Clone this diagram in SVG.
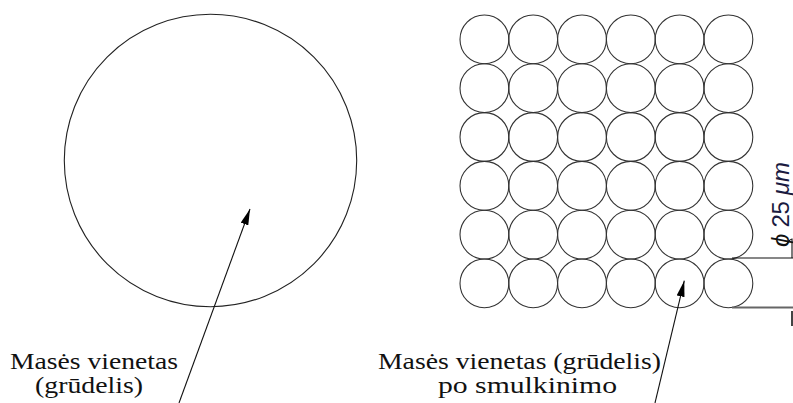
<svg xmlns="http://www.w3.org/2000/svg" width="793" height="403" viewBox="0 0 793 403">
<style>
.c{fill:none;stroke:#333;stroke-width:1.1}
.big{fill:none;stroke:#222;stroke-width:1.1}
.lbl{font-family:"Liberation Serif","Times New Roman",serif;font-size:24px;fill:#111}
.dim{font-family:"Liberation Sans",Arial,sans-serif;font-size:24px;fill:#1a1a40}
.ar{stroke:#111;stroke-width:1.1;fill:none}
</style>
<defs>
<marker id="ah" viewBox="0 0 16 8" refX="16" refY="4" markerWidth="16" markerHeight="8" markerUnits="userSpaceOnUse" orient="auto">
<path d="M0,0 L16,4 L0,8 Z" fill="#000"/>
</marker>
</defs>
<rect width="793" height="403" fill="#fff"/>
<g id="big-grain">
<circle class="big" cx="210.5" cy="160.5" r="146.2"/>
</g>
<g id="grid">
<g id="row1">
<circle class="c" cx="484.4" cy="39.4" r="24.4"/><circle class="c" cx="533.2" cy="39.4" r="24.4"/><circle class="c" cx="582" cy="39.4" r="24.4"/><circle class="c" cx="630.8" cy="39.4" r="24.4"/><circle class="c" cx="679.6" cy="39.4" r="24.4"/><circle class="c" cx="728.4" cy="39.4" r="24.4"/>
</g>
<g id="row2">
<circle class="c" cx="484.4" cy="88.2" r="24.4"/><circle class="c" cx="533.2" cy="88.2" r="24.4"/><circle class="c" cx="582" cy="88.2" r="24.4"/><circle class="c" cx="630.8" cy="88.2" r="24.4"/><circle class="c" cx="679.6" cy="88.2" r="24.4"/><circle class="c" cx="728.4" cy="88.2" r="24.4"/>
</g>
<g id="row3">
<circle class="c" cx="484.4" cy="137" r="24.4"/><circle class="c" cx="533.2" cy="137" r="24.4"/><circle class="c" cx="582" cy="137" r="24.4"/><circle class="c" cx="630.8" cy="137" r="24.4"/><circle class="c" cx="679.6" cy="137" r="24.4"/><circle class="c" cx="728.4" cy="137" r="24.4"/>
</g>
<g id="row4">
<circle class="c" cx="484.4" cy="185.8" r="24.4"/><circle class="c" cx="533.2" cy="185.8" r="24.4"/><circle class="c" cx="582" cy="185.8" r="24.4"/><circle class="c" cx="630.8" cy="185.8" r="24.4"/><circle class="c" cx="679.6" cy="185.8" r="24.4"/><circle class="c" cx="728.4" cy="185.8" r="24.4"/>
</g>
<g id="row5">
<circle class="c" cx="484.4" cy="234.6" r="24.4"/><circle class="c" cx="533.2" cy="234.6" r="24.4"/><circle class="c" cx="582" cy="234.6" r="24.4"/><circle class="c" cx="630.8" cy="234.6" r="24.4"/><circle class="c" cx="679.6" cy="234.6" r="24.4"/><circle class="c" cx="728.4" cy="234.6" r="24.4"/>
</g>
<g id="row6">
<circle class="c" cx="484.4" cy="283.4" r="24.4"/><circle class="c" cx="533.2" cy="283.4" r="24.4"/><circle class="c" cx="582" cy="283.4" r="24.4"/><circle class="c" cx="630.8" cy="283.4" r="24.4"/><circle class="c" cx="679.6" cy="283.4" r="24.4"/><circle class="c" cx="728.4" cy="283.4" r="24.4"/>
</g>
</g>
<g id="connectors">
<line class="ar" x1="179" y1="403" x2="250" y2="209" marker-end="url(#ah)"/>
<line class="ar" x1="655" y1="403" x2="684.3" y2="280.7" marker-end="url(#ah)"/>
</g>
<g id="dimension">
<line x1="732" y1="258" x2="793" y2="258" stroke="#111" stroke-width="1.1"/>
<line x1="732" y1="307.5" x2="793" y2="307.5" stroke="#666" stroke-width="2"/>
<path d="M786,245 Q790,239 792,239 L792,258" fill="none" stroke="#111" stroke-width="1.1"/>
<line x1="792" y1="311" x2="792" y2="326" stroke="#444" stroke-width="2"/>
<text class="dim" transform="translate(789,247) rotate(-90)" textLength="85" lengthAdjust="spacing"><tspan font-style="italic" fill="#111">ϕ</tspan> 25 <tspan font-style="italic">μm</tspan></text>
</g>
<g id="label-left">
<text class="lbl" x="10" y="369" textLength="168" lengthAdjust="spacingAndGlyphs">Masės vienetas</text>
<text class="lbl" x="35" y="393" textLength="108" lengthAdjust="spacingAndGlyphs">(grūdelis)</text>
</g>
<g id="label-right">
<text class="lbl" x="378" y="369" textLength="283" lengthAdjust="spacingAndGlyphs">Masės vienetas (grūdelis)</text>
<text class="lbl" x="438" y="393" textLength="179" lengthAdjust="spacingAndGlyphs">po smulkinimo</text>
</g>
</svg>
